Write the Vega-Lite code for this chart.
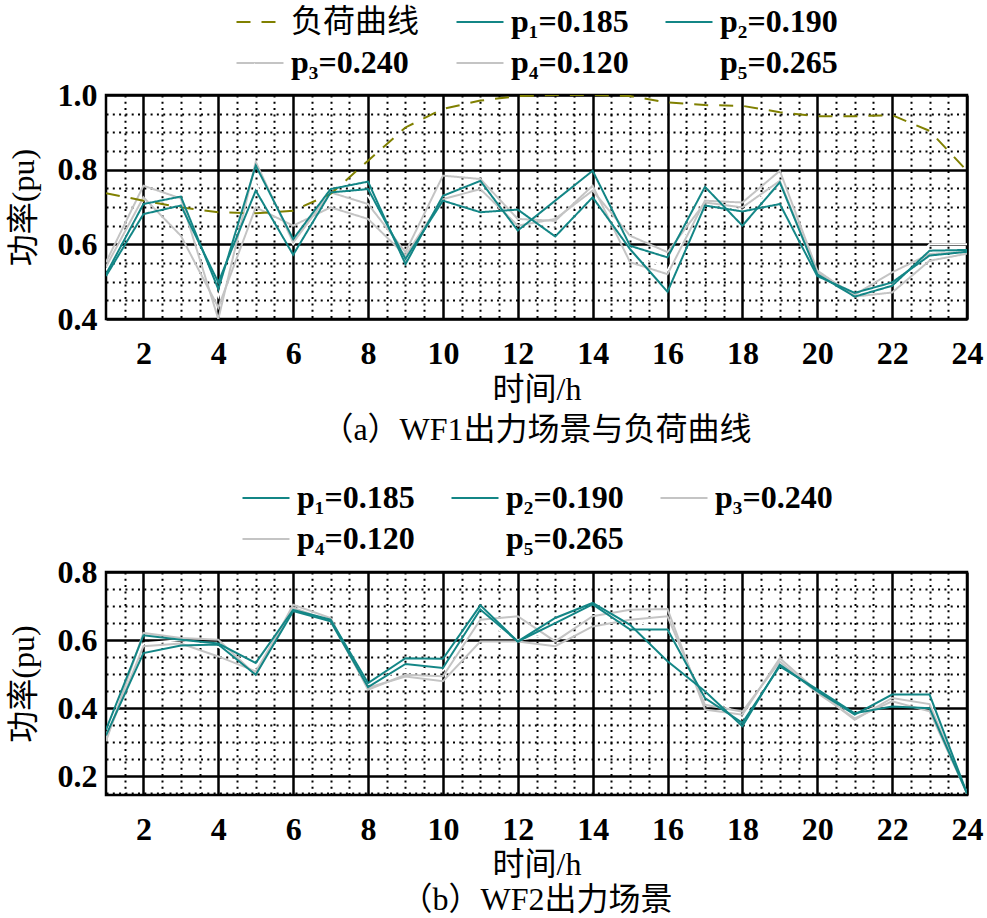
{
  "$schema": "https://vega.github.io/schema/vega-lite/v6.json",
  "background": "white",
  "padding": {"left": 5, "top": -5, "right": 0, "bottom": 0},
  "spacing": 23,
  "config": {
    "font": "Liberation Serif, Noto Sans CJK SC",
    "view": {"stroke": "black", "strokeWidth": 2.5},
    "axis": {"labelFontSize": 32, "labelFontWeight": "bold", "labelColor": "black", "titleFontSize": 32, "titleColor": "black", "titleFontWeight": "normal", "ticks": false, "domain": false, "labelFlush": false, "labelOverlap": false, "labelBound": false, "gridColor": "black", "gridOpacity": 1},
    "legend": {"labelFontSize": 32, "labelFontWeight": {"expr": "datum.label === '负荷曲线' ? 'normal' : 'bold'"}, "labelColor": "black", "symbolType": "stroke", "symbolSize": 2209, "symbolStrokeWidth": 2.2, "columnPadding": 32, "rowPadding": -7, "padding": 0, "labelLimit": 400, "labelOffset": 6, "layout": {"top": {"anchor": "middle"}}},
    "title": {"fontSize": 32, "fontWeight": "normal", "color": "black"}
  },
  "datasets": {
    "a": [
      {"h":1,"v":0.53,"s":"p₅=0.265"},{"h":2,"v":0.72,"s":"p₅=0.265"},{"h":3,"v":0.71,"s":"p₅=0.265"},{"h":4,"v":0.46,"s":"p₅=0.265"},{"h":5,"v":0.76,"s":"p₅=0.265"},{"h":6,"v":0.6,"s":"p₅=0.265"},{"h":7,"v":0.73,"s":"p₅=0.265"},{"h":8,"v":0.73,"s":"p₅=0.265"},{"h":9,"v":0.56,"s":"p₅=0.265"},{"h":10,"v":0.73,"s":"p₅=0.265"},{"h":11,"v":0.74,"s":"p₅=0.265"},{"h":12,"v":0.66,"s":"p₅=0.265"},{"h":13,"v":0.65,"s":"p₅=0.265"},{"h":14,"v":0.75,"s":"p₅=0.265"},{"h":15,"v":0.59,"s":"p₅=0.265"},{"h":16,"v":0.53,"s":"p₅=0.265"},{"h":17,"v":0.72,"s":"p₅=0.265"},{"h":18,"v":0.69,"s":"p₅=0.265"},{"h":19,"v":0.76,"s":"p₅=0.265"},{"h":20,"v":0.52,"s":"p₅=0.265"},{"h":21,"v":0.465,"s":"p₅=0.265"},{"h":22,"v":0.49,"s":"p₅=0.265"},{"h":23,"v":0.6,"s":"p₅=0.265"},{"h":24,"v":0.6,"s":"p₅=0.265"},
      {"h":1,"v":0.552,"s":"p₃=0.240"},{"h":2,"v":0.757,"s":"p₃=0.240"},{"h":3,"v":0.723,"s":"p₃=0.240"},{"h":4,"v":0.4,"s":"p₃=0.240"},{"h":5,"v":0.821,"s":"p₃=0.240"},{"h":6,"v":0.605,"s":"p₃=0.240"},{"h":7,"v":0.739,"s":"p₃=0.240"},{"h":8,"v":0.708,"s":"p₃=0.240"},{"h":9,"v":0.579,"s":"p₃=0.240"},{"h":10,"v":0.784,"s":"p₃=0.240"},{"h":11,"v":0.775,"s":"p₃=0.240"},{"h":12,"v":0.668,"s":"p₃=0.240"},{"h":13,"v":0.663,"s":"p₃=0.240"},{"h":14,"v":0.757,"s":"p₃=0.240"},{"h":15,"v":0.552,"s":"p₃=0.240"},{"h":16,"v":0.52,"s":"p₃=0.240"},{"h":17,"v":0.717,"s":"p₃=0.240"},{"h":18,"v":0.712,"s":"p₃=0.240"},{"h":19,"v":0.797,"s":"p₃=0.240"},{"h":20,"v":0.53,"s":"p₃=0.240"},{"h":21,"v":0.46,"s":"p₃=0.240"},{"h":22,"v":0.471,"s":"p₃=0.240"},{"h":23,"v":0.556,"s":"p₃=0.240"},{"h":24,"v":0.575,"s":"p₃=0.240"},
      {"h":1,"v":0.54,"s":"p₄=0.120"},{"h":2,"v":0.726,"s":"p₄=0.120"},{"h":3,"v":0.623,"s":"p₄=0.120"},{"h":4,"v":0.431,"s":"p₄=0.120"},{"h":5,"v":0.699,"s":"p₄=0.120"},{"h":6,"v":0.65,"s":"p₄=0.120"},{"h":7,"v":0.699,"s":"p₄=0.120"},{"h":8,"v":0.668,"s":"p₄=0.120"},{"h":9,"v":0.57,"s":"p₄=0.120"},{"h":10,"v":0.721,"s":"p₄=0.120"},{"h":11,"v":0.748,"s":"p₄=0.120"},{"h":12,"v":0.65,"s":"p₄=0.120"},{"h":13,"v":0.668,"s":"p₄=0.120"},{"h":14,"v":0.744,"s":"p₄=0.120"},{"h":15,"v":0.623,"s":"p₄=0.120"},{"h":16,"v":0.579,"s":"p₄=0.120"},{"h":17,"v":0.712,"s":"p₄=0.120"},{"h":18,"v":0.699,"s":"p₄=0.120"},{"h":19,"v":0.77,"s":"p₄=0.120"},{"h":20,"v":0.525,"s":"p₄=0.120"},{"h":21,"v":0.465,"s":"p₄=0.120"},{"h":22,"v":0.525,"s":"p₄=0.120"},{"h":23,"v":0.574,"s":"p₄=0.120"},{"h":24,"v":0.58,"s":"p₄=0.120"},
      {"h":1,"v":0.737,"s":"负荷曲线"},{"h":2,"v":0.717,"s":"负荷曲线"},{"h":3,"v":0.699,"s":"负荷曲线"},{"h":4,"v":0.686,"s":"负荷曲线"},{"h":5,"v":0.683,"s":"负荷曲线"},{"h":6,"v":0.69,"s":"负荷曲线"},{"h":7,"v":0.735,"s":"负荷曲线"},{"h":8,"v":0.824,"s":"负荷曲线"},{"h":9,"v":0.913,"s":"负荷曲线"},{"h":10,"v":0.963,"s":"负荷曲线"},{"h":11,"v":0.985,"s":"负荷曲线"},{"h":12,"v":0.997,"s":"负荷曲线"},{"h":13,"v":1.0,"s":"负荷曲线"},{"h":14,"v":1.0,"s":"负荷曲线"},{"h":15,"v":0.997,"s":"负荷曲线"},{"h":16,"v":0.98,"s":"负荷曲线"},{"h":17,"v":0.973,"s":"负荷曲线"},{"h":18,"v":0.971,"s":"负荷曲线"},{"h":19,"v":0.954,"s":"负荷曲线"},{"h":20,"v":0.943,"s":"负荷曲线"},{"h":21,"v":0.943,"s":"负荷曲线"},{"h":22,"v":0.946,"s":"负荷曲线"},{"h":23,"v":0.904,"s":"负荷曲线"},{"h":24,"v":0.797,"s":"负荷曲线"},
      {"h":1,"v":0.52,"s":"p₁=0.185"},{"h":2,"v":0.708,"s":"p₁=0.185"},{"h":3,"v":0.728,"s":"p₁=0.185"},{"h":4,"v":0.48,"s":"p₁=0.185"},{"h":5,"v":0.811,"s":"p₁=0.185"},{"h":6,"v":0.614,"s":"p₁=0.185"},{"h":7,"v":0.748,"s":"p₁=0.185"},{"h":8,"v":0.768,"s":"p₁=0.185"},{"h":9,"v":0.547,"s":"p₁=0.185"},{"h":10,"v":0.73,"s":"p₁=0.185"},{"h":11,"v":0.77,"s":"p₁=0.185"},{"h":12,"v":0.637,"s":"p₁=0.185"},{"h":13,"v":0.717,"s":"p₁=0.185"},{"h":14,"v":0.797,"s":"p₁=0.185"},{"h":15,"v":0.596,"s":"p₁=0.185"},{"h":16,"v":0.565,"s":"p₁=0.185"},{"h":17,"v":0.754,"s":"p₁=0.185"},{"h":18,"v":0.65,"s":"p₁=0.185"},{"h":19,"v":0.766,"s":"p₁=0.185"},{"h":20,"v":0.52,"s":"p₁=0.185"},{"h":21,"v":0.46,"s":"p₁=0.185"},{"h":22,"v":0.489,"s":"p₁=0.185"},{"h":23,"v":0.583,"s":"p₁=0.185"},{"h":24,"v":0.585,"s":"p₁=0.185"},
      {"h":1,"v":0.515,"s":"p₂=0.190"},{"h":2,"v":0.681,"s":"p₂=0.190"},{"h":3,"v":0.704,"s":"p₂=0.190"},{"h":4,"v":0.498,"s":"p₂=0.190"},{"h":5,"v":0.744,"s":"p₂=0.190"},{"h":6,"v":0.572,"s":"p₂=0.190"},{"h":7,"v":0.739,"s":"p₂=0.190"},{"h":8,"v":0.748,"s":"p₂=0.190"},{"h":9,"v":0.561,"s":"p₂=0.190"},{"h":10,"v":0.717,"s":"p₂=0.190"},{"h":11,"v":0.686,"s":"p₂=0.190"},{"h":12,"v":0.693,"s":"p₂=0.190"},{"h":13,"v":0.621,"s":"p₂=0.190"},{"h":14,"v":0.726,"s":"p₂=0.190"},{"h":15,"v":0.587,"s":"p₂=0.190"},{"h":16,"v":0.473,"s":"p₂=0.190"},{"h":17,"v":0.704,"s":"p₂=0.190"},{"h":18,"v":0.688,"s":"p₂=0.190"},{"h":19,"v":0.708,"s":"p₂=0.190"},{"h":20,"v":0.515,"s":"p₂=0.190"},{"h":21,"v":0.47,"s":"p₂=0.190"},{"h":22,"v":0.498,"s":"p₂=0.190"},{"h":23,"v":0.57,"s":"p₂=0.190"},{"h":24,"v":0.58,"s":"p₂=0.190"}
    ],
    "b": [
      {"h":1,"v":0.32,"s":"p₅=0.265"},{"h":2,"v":0.59,"s":"p₅=0.265"},{"h":3,"v":0.6,"s":"p₅=0.265"},{"h":4,"v":0.58,"s":"p₅=0.265"},{"h":5,"v":0.52,"s":"p₅=0.265"},{"h":6,"v":0.69,"s":"p₅=0.265"},{"h":7,"v":0.66,"s":"p₅=0.265"},{"h":8,"v":0.47,"s":"p₅=0.265"},{"h":9,"v":0.52,"s":"p₅=0.265"},{"h":10,"v":0.51,"s":"p₅=0.265"},{"h":11,"v":0.66,"s":"p₅=0.265"},{"h":12,"v":0.6,"s":"p₅=0.265"},{"h":13,"v":0.62,"s":"p₅=0.265"},{"h":14,"v":0.68,"s":"p₅=0.265"},{"h":15,"v":0.66,"s":"p₅=0.265"},{"h":16,"v":0.63,"s":"p₅=0.265"},{"h":17,"v":0.45,"s":"p₅=0.265"},{"h":18,"v":0.37,"s":"p₅=0.265"},{"h":19,"v":0.54,"s":"p₅=0.265"},{"h":20,"v":0.45,"s":"p₅=0.265"},{"h":21,"v":0.38,"s":"p₅=0.265"},{"h":22,"v":0.42,"s":"p₅=0.265"},{"h":23,"v":0.42,"s":"p₅=0.265"},{"h":24,"v":0.15,"s":"p₅=0.265"},
      {"h":1,"v":0.303,"s":"p₃=0.240"},{"h":2,"v":0.621,"s":"p₃=0.240"},{"h":3,"v":0.606,"s":"p₃=0.240"},{"h":4,"v":0.601,"s":"p₃=0.240"},{"h":5,"v":0.498,"s":"p₃=0.240"},{"h":6,"v":0.704,"s":"p₃=0.240"},{"h":7,"v":0.665,"s":"p₃=0.240"},{"h":8,"v":0.454,"s":"p₃=0.240"},{"h":9,"v":0.498,"s":"p₃=0.240"},{"h":10,"v":0.494,"s":"p₃=0.240"},{"h":11,"v":0.66,"s":"p₃=0.240"},{"h":12,"v":0.67,"s":"p₃=0.240"},{"h":13,"v":0.596,"s":"p₃=0.240"},{"h":14,"v":0.67,"s":"p₃=0.240"},{"h":15,"v":0.689,"s":"p₃=0.240"},{"h":16,"v":0.691,"s":"p₃=0.240"},{"h":17,"v":0.396,"s":"p₃=0.240"},{"h":18,"v":0.381,"s":"p₃=0.240"},{"h":19,"v":0.547,"s":"p₃=0.240"},{"h":20,"v":0.45,"s":"p₃=0.240"},{"h":21,"v":0.366,"s":"p₃=0.240"},{"h":22,"v":0.43,"s":"p₃=0.240"},{"h":23,"v":0.412,"s":"p₃=0.240"},{"h":24,"v":0.15,"s":"p₃=0.240"},
      {"h":1,"v":0.31,"s":"p₄=0.120"},{"h":2,"v":0.582,"s":"p₄=0.120"},{"h":3,"v":0.59,"s":"p₄=0.120"},{"h":4,"v":0.552,"s":"p₄=0.120"},{"h":5,"v":0.508,"s":"p₄=0.120"},{"h":6,"v":0.695,"s":"p₄=0.120"},{"h":7,"v":0.655,"s":"p₄=0.120"},{"h":8,"v":0.46,"s":"p₄=0.120"},{"h":9,"v":0.493,"s":"p₄=0.120"},{"h":10,"v":0.479,"s":"p₄=0.120"},{"h":11,"v":0.596,"s":"p₄=0.120"},{"h":12,"v":0.596,"s":"p₄=0.120"},{"h":13,"v":0.582,"s":"p₄=0.120"},{"h":14,"v":0.64,"s":"p₄=0.120"},{"h":15,"v":0.66,"s":"p₄=0.120"},{"h":16,"v":0.67,"s":"p₄=0.120"},{"h":17,"v":0.41,"s":"p₄=0.120"},{"h":18,"v":0.39,"s":"p₄=0.120"},{"h":19,"v":0.537,"s":"p₄=0.120"},{"h":20,"v":0.445,"s":"p₄=0.120"},{"h":21,"v":0.37,"s":"p₄=0.120"},{"h":22,"v":0.42,"s":"p₄=0.120"},{"h":23,"v":0.391,"s":"p₄=0.120"},{"h":24,"v":0.15,"s":"p₄=0.120"},
      {"h":1,"v":0.337,"s":"p₁=0.185"},{"h":2,"v":0.614,"s":"p₁=0.185"},{"h":3,"v":0.601,"s":"p₁=0.185"},{"h":4,"v":0.59,"s":"p₁=0.185"},{"h":5,"v":0.533,"s":"p₁=0.185"},{"h":6,"v":0.689,"s":"p₁=0.185"},{"h":7,"v":0.66,"s":"p₁=0.185"},{"h":8,"v":0.474,"s":"p₁=0.185"},{"h":9,"v":0.547,"s":"p₁=0.185"},{"h":10,"v":0.545,"s":"p₁=0.185"},{"h":11,"v":0.702,"s":"p₁=0.185"},{"h":12,"v":0.596,"s":"p₁=0.185"},{"h":13,"v":0.665,"s":"p₁=0.185"},{"h":14,"v":0.709,"s":"p₁=0.185"},{"h":15,"v":0.645,"s":"p₁=0.185"},{"h":16,"v":0.538,"s":"p₁=0.185"},{"h":17,"v":0.45,"s":"p₁=0.185"},{"h":18,"v":0.347,"s":"p₁=0.185"},{"h":19,"v":0.528,"s":"p₁=0.185"},{"h":20,"v":0.45,"s":"p₁=0.185"},{"h":21,"v":0.381,"s":"p₁=0.185"},{"h":22,"v":0.44,"s":"p₁=0.185"},{"h":23,"v":0.44,"s":"p₁=0.185"},{"h":24,"v":0.15,"s":"p₁=0.185"},
      {"h":1,"v":0.32,"s":"p₂=0.190"},{"h":2,"v":0.562,"s":"p₂=0.190"},{"h":3,"v":0.584,"s":"p₂=0.190"},{"h":4,"v":0.587,"s":"p₂=0.190"},{"h":5,"v":0.498,"s":"p₂=0.190"},{"h":6,"v":0.685,"s":"p₂=0.190"},{"h":7,"v":0.655,"s":"p₂=0.190"},{"h":8,"v":0.462,"s":"p₂=0.190"},{"h":9,"v":0.53,"s":"p₂=0.190"},{"h":10,"v":0.518,"s":"p₂=0.190"},{"h":11,"v":0.69,"s":"p₂=0.190"},{"h":12,"v":0.596,"s":"p₂=0.190"},{"h":13,"v":0.65,"s":"p₂=0.190"},{"h":14,"v":0.705,"s":"p₂=0.190"},{"h":15,"v":0.631,"s":"p₂=0.190"},{"h":16,"v":0.631,"s":"p₂=0.190"},{"h":17,"v":0.43,"s":"p₂=0.190"},{"h":18,"v":0.357,"s":"p₂=0.190"},{"h":19,"v":0.523,"s":"p₂=0.190"},{"h":20,"v":0.455,"s":"p₂=0.190"},{"h":21,"v":0.385,"s":"p₂=0.190"},{"h":22,"v":0.405,"s":"p₂=0.190"},{"h":23,"v":0.4,"s":"p₂=0.190"},{"h":24,"v":0.15,"s":"p₂=0.190"}
    ]
  },
  "vconcat": [
    {
      "width": 861,
      "height": 224,
      "data": {"name": "a"},
      "title": {"text": "（a）WF1出力场景与负荷曲线", "orient": "bottom", "offset": 10},
      "mark": {"type": "line", "strokeWidth": 2, "clip": true},
      "encoding": {
        "x": {"field": "h", "type": "quantitative", "scale": {"domain": [1, 24], "nice": false, "zero": false},
          "axis": {"title": "时间/h", "values": [1.5,2,2.5,3,3.5,4,4.5,5,5.5,6,6.5,7,7.5,8,8.5,9,9.5,10,10.5,11,11.5,12,12.5,13,13.5,14,14.5,15,15.5,16,16.5,17,17.5,18,18.5,19,19.5,20,20.5,21,21.5,22,22.5,23,23.5,24],
            "labelExpr": "datum.value % 2 === 0 ? format(datum.value, 'd') : ''", "labelPadding": 19, "titlePadding": 5,
            "gridDash": {"condition": {"test": "datum.value % 2 === 0", "value": []}, "value": [2, 4.3]},
            "gridWidth": {"condition": {"test": "datum.value % 2 === 0", "value": 2.5}, "value": 2}}},
        "y": {"field": "v", "type": "quantitative", "scale": {"domain": [0.4, 1.0], "nice": false, "zero": false},
          "axis": {"title": "功率(pu)", "values": [0.4,0.45,0.5,0.55,0.6,0.65,0.7,0.75,0.8,0.85,0.9,0.95,1.0],
            "labelExpr": "abs(datum.value*5 - round(datum.value*5)) < 0.001 ? format(datum.value, '.1f') : ''", "labelPadding": 9, "titlePadding": 17,
            "gridDash": {"condition": {"test": "abs(datum.value*5 - round(datum.value*5)) < 0.001", "value": []}, "value": [2, 4.3]},
            "gridWidth": {"condition": {"test": "abs(datum.value*5 - round(datum.value*5)) < 0.001", "value": 2.5}, "value": 2}}},
        "color": {"field": "s", "type": "nominal",
          "scale": {"domain": ["负荷曲线", "p₁=0.185", "p₂=0.190", "p₃=0.240", "p₄=0.120", "p₅=0.265"], "range": ["#808000", "#138686", "#138686", "#c4c4c4", "#c4c4c4", "#ffffff"]},
          "legend": {"title": null, "orient": "top", "columns": 3, "offset": 16}},
        "strokeDash": {"field": "s", "type": "nominal",
          "scale": {"domain": ["负荷曲线", "p₁=0.185", "p₂=0.190", "p₃=0.240", "p₄=0.120", "p₅=0.265"], "range": [[14, 11], [1, 0], [1, 0], [1, 0], [1, 0], [1, 0]]},
          "legend": {"title": null, "orient": "top", "columns": 3, "offset": 16}}
      }
    },
    {
      "width": 861,
      "height": 223,
      "data": {"name": "b"},
      "title": {"text": "（b）WF2出力场景", "orient": "bottom", "offset": 5},
      "mark": {"type": "line", "strokeWidth": 2, "clip": true},
      "encoding": {
        "x": {"field": "h", "type": "quantitative", "scale": {"domain": [1, 24], "nice": false, "zero": false},
          "axis": {"title": "时间/h", "values": [1.5,2,2.5,3,3.5,4,4.5,5,5.5,6,6.5,7,7.5,8,8.5,9,9.5,10,10.5,11,11.5,12,12.5,13,13.5,14,14.5,15,15.5,16,16.5,17,17.5,18,18.5,19,19.5,20,20.5,21,21.5,22,22.5,23,23.5,24],
            "labelExpr": "datum.value % 2 === 0 ? format(datum.value, 'd') : ''", "labelPadding": 19, "titlePadding": 4,
            "gridDash": {"condition": {"test": "datum.value % 2 === 0", "value": []}, "value": [2, 4.3]},
            "gridWidth": {"condition": {"test": "datum.value % 2 === 0", "value": 2.5}, "value": 2}}},
        "y": {"field": "v", "type": "quantitative", "scale": {"domain": [0.145, 0.8], "nice": false, "zero": false},
          "axis": {"title": "功率(pu)", "values": [0.15,0.2,0.25,0.3,0.35,0.4,0.45,0.5,0.55,0.6,0.65,0.7,0.75,0.8],
            "labelExpr": "abs(datum.value*5 - round(datum.value*5)) < 0.001 ? format(datum.value, '.1f') : ''", "labelPadding": 9, "titlePadding": 17,
            "gridDash": {"condition": {"test": "abs(datum.value*5 - round(datum.value*5)) < 0.001", "value": []}, "value": [2, 4.3]},
            "gridWidth": {"condition": {"test": "abs(datum.value*5 - round(datum.value*5)) < 0.001", "value": 2.5}, "value": 2}}},
        "color": {"field": "s", "type": "nominal",
          "scale": {"domain": ["p₁=0.185", "p₂=0.190", "p₃=0.240", "p₄=0.120", "p₅=0.265"], "range": ["#138686", "#138686", "#c4c4c4", "#c4c4c4", "#ffffff"]},
          "legend": {"title": null, "orient": "top", "columns": 3, "offset": 17}}
      }
    }
  ],
  "resolve": {"scale": {"color": "independent", "strokeDash": "independent", "x": "independent", "y": "independent"}, "legend": {"color": "independent", "strokeDash": "independent"}, "axis": {"x": "independent", "y": "independent"}}
}
